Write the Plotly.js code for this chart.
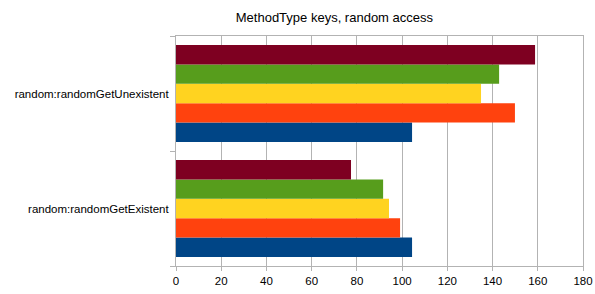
<!DOCTYPE html>
<html>
<head>
<meta charset="utf-8">
<script src="https://cdn.plot.ly/plotly-3.0.1.min.js"></script>
<style>html,body{margin:0;padding:0;background:#fff;}#chart{width:595px;height:294px;}</style>
</head>
<body>
<div id="chart"></div>
<script>
const categories = ["random:randomGetExistent", "random:randomGetUnexistent"];
const seriesNames = ["Series 1", "Series 2", "Series 3", "Series 4", "Series 5"];
const series1 = [104.4, 104.4];
const series2 = [99.1, 149.9];
const series3 = [94.2, 134.9];
const series4 = [91.6, 142.9];
const series5 = [77.4, 158.8];
const xTicks = [0, 20, 40, 60, 80, 100, 120, 140, 160, 180];
const colors = ["#004586", "#ff420e", "#ffd320", "#579d1c", "#7e0021"];

const allSeries = [series1, series2, series3, series4, series5];
const traces = allSeries.map((vals, i) => ({
  type: "bar",
  orientation: "h",
  name: seriesNames[i],
  y: categories,
  x: vals,
  marker: {color: colors[i], line: {width: 0}},
  hoverinfo: "x+y"
}));

const layout = {
  width: 595,
  height: 294,
  margin: {l: 176, r: 12, t: 36, b: 28},
  paper_bgcolor: "#ffffff",
  plot_bgcolor: "#ffffff",
  showlegend: false,
  barmode: "group",
  bargap: 0.157,
  bargroupgap: 0,
  font: {family: "Liberation Sans, Arial, sans-serif", size: 11.5, color: "#000"},
  title: {
    text: "MethodType keys, random access",
    font: {family: "Liberation Sans, Arial, sans-serif", size: 13, color: "#000"},
    x: 0.562, xanchor: "center",
    y: 0.94, yanchor: "middle"
  },
  xaxis: {
    range: [0, 180],
    tickvals: xTicks,
    ticktext: xTicks.map(String),
    showgrid: true,
    gridcolor: "#b3b3b3",
    gridwidth: 1,
    zeroline: false,
    showline: true,
    linecolor: "#b3b3b3",
    linewidth: 1,
    mirror: true,
    ticks: "outside",
    ticklen: 4,
    tickcolor: "#b3b3b3",
    tickfont: {size: 11.5, color: "#000"},
    fixedrange: true
  },
  yaxis: {
    type: "category",
    categoryorder: "array",
    categoryarray: categories,
    showgrid: false,
    zeroline: false,
    showline: true,
    linecolor: "#b3b3b3",
    linewidth: 1,
    mirror: true,
    ticks: "outside",
    tickson: "boundaries",
    ticklen: 5,
    tickcolor: "#b3b3b3",
    tickfont: {size: 11.5, color: "#000"},
    ticklabelstandoff: 4,
    fixedrange: true
  }
};

Plotly.newPlot("chart", traces, layout, {displayModeBar: false, staticPlot: true});
</script>
</body>
</html>
